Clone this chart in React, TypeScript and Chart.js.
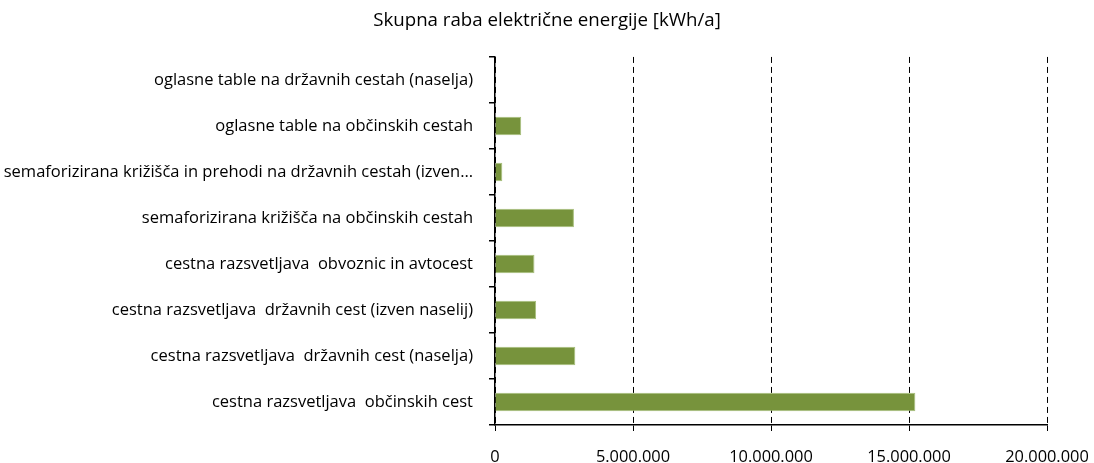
import React, { useEffect, useRef } from "react";
import { Chart, registerables } from "chart.js";

Chart.register(...registerables);

const categories: string[] = [
  "oglasne table na državnih cestah (naselja)",
  "oglasne table na občinskih cestah",
  "semaforizirana križišča in prehodi na državnih cestah (izven…",
  "semaforizirana križišča na občinskih cestah",
  "cestna razsvetljava  obvoznic in avtocest",
  "cestna razsvetljava  državnih cest (izven naselij)",
  "cestna razsvetljava  državnih cest (naselja)",
  "cestna razsvetljava  občinskih cest",
];

const energyValues: number[] = [
  0, 950000, 265000, 2860000, 1430000, 1490000, 2910000, 15230000,
];

const chartTitle = "Skupna raba električne energije [kWh/a]";
const xMin = 0;
const xMax = 20000000;
const xStep = 5000000;

const FONT = "'Open Sans'";

function formatThousands(v: number): string {
  return String(Math.round(v)).replace(/\B(?=(\d{3})+(?!\d))/g, ".");
}

export default function App() {
  const canvasRef = useRef<HTMLCanvasElement | null>(null);

  useEffect(() => {
    document.body.style.margin = "0";
    const canvas = canvasRef.current;
    if (!canvas) return;
    const chart = new Chart(canvas, {
      type: "bar",
      data: {
        labels: categories,
        datasets: [
          {
            data: energyValues,
            backgroundColor: "#77933C",
            borderColor: "#A7BF7A",
            borderWidth: (ctx: any) => (ctx.raw > 0 ? 1 : 0),
            barPercentage: 0.4,
            categoryPercentage: 1,
          },
        ],
      },
      options: {
        indexAxis: "y",
        animation: false,
        responsive: false,
        maintainAspectRatio: false,
        layout: { padding: { left: 0, right: 0, top: 0, bottom: 0 } },
        plugins: {
          legend: { display: false },
          tooltip: { enabled: false },
          title: {
            display: true,
            text: chartTitle,
            color: "#000",
            font: { family: FONT, size: 18.7, weight: "normal", lineHeight: 1.2 },
            padding: { top: 9, bottom: 25.5 },
          },
        },
        scales: {
          x: {
            min: xMin,
            max: xMax,
            ticks: {
              stepSize: xStep,
              color: "#000",
              font: { family: FONT, size: 16.4 },
              padding: 16,
              maxRotation: 0,
              callback: (v: any) => formatThousands(Number(v)),
            },
            grid: {
              color: "#000",
              lineWidth: 1,
              tickLength: 6,
              tickColor: "#000",
              tickBorderDash: [],
            },
            border: { display: true, color: "#000", width: 1.5, dash: [6, 4] },
            afterFit: (scale: any) => {
              scale.height = 38;
              scale.paddingLeft = 0;
              scale.paddingRight = 47;
            },
          },
          y: {
            ticks: {
              color: "#000",
              font: { family: FONT, size: 16.5 },
              padding: 16,
              autoSkip: false,
            },
            grid: {
              offset: true,
              drawOnChartArea: false,
              drawTicks: true,
              tickLength: 6,
              tickColor: "#000",
              lineWidth: 1.5,
            },
            border: { display: true, color: "#000", width: 1.5 },
            afterFit: (scale: any) => {
              scale.width = 495;
            },
          },
        },
      },
    });
    return () => chart.destroy();
  }, []);

  return (
    <div style={{ width: 1094, height: 463 }}>
      <canvas ref={canvasRef} width={1094} height={463} style={{ display: "block" }} />
    </div>
  );
}
